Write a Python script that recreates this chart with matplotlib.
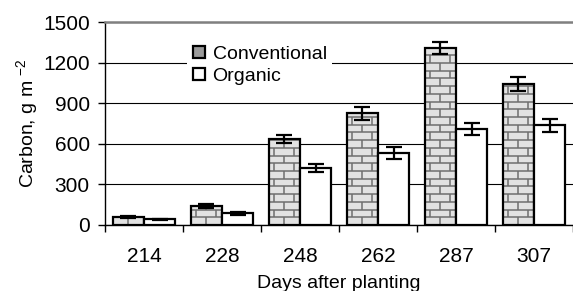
import numpy as np
import matplotlib
matplotlib.use("Agg")
import matplotlib.pyplot as plt
from matplotlib.patches import Rectangle

plt.rcParams.update({
    'font.family': ['Liberation Sans', 'DejaVu Sans'],
    'font.size': 15,
    'mathtext.fontset': 'custom',
    'mathtext.rm': 'Liberation Sans',
    'mathtext.it': 'Liberation Sans:italic',
})

days = ['214', '228', '248', '262', '287', '307']
conventional = [62, 140, 635, 825, 1310, 1042]
conventional_err = [8, 12, 32, 48, 45, 49]
organic = [42, 85, 420, 532, 709, 737]
organic_err = [5, 10, 30, 47, 45, 49]

fig = plt.figure(figsize=(5.73, 2.91), dpi=100)
ax = fig.add_axes([105 / 573, 1 - 225 / 291, 468 / 573, 203 / 291])

x = np.arange(len(days))
w = 0.4
brick_fill = '#e2e2e2'
mortar = '#6e6e6e'

# conventional bars: fill, brick texture, outline
bars = ax.bar(x - w / 2, conventional, w, color=brick_fill, edgecolor='none', zorder=2)
step = 57  # brick row height in data units
for b in bars:
    x0, bw, h = b.get_x(), b.get_width(), b.get_height()
    rows = np.arange(0, h, step)
    ax.hlines(rows[1:], x0, x0 + bw, color=mortar, lw=1.1, zorder=2.1)
    for i, y0 in enumerate(rows):
        y1 = min(y0 + step, h)
        joints = [0.5] if i % 2 == 0 else [0.18, 0.82]
        for j in joints:
            ax.vlines(x0 + j * bw, y0, y1, color=mortar, lw=1.1, zorder=2.1)
ax.bar(x - w / 2, conventional, w, fill=False, edgecolor='black', lw=1.6, zorder=2.2)
ax.bar(x + w / 2, organic, w, color='white', edgecolor='black', lw=1.6, zorder=2.2)

ax.errorbar(x - w / 2, conventional, yerr=conventional_err, fmt='none', ecolor='black',
            elinewidth=1.6, capsize=6, capthick=1.6, zorder=3)
ax.errorbar(x + w / 2, organic, yerr=organic_err, fmt='none', ecolor='black',
            elinewidth=1.6, capsize=6, capthick=1.6, zorder=3)

ax.set_xlim(-0.5, len(days) - 0.5)
ax.set_ylim(0, 1500)
ax.set_yticks(np.arange(0, 1501, 300))
ax.yaxis.grid(True, color='black', lw=0.8)
ax.set_axisbelow(True)

ax.set_xticks(np.arange(-0.5, len(days), 1))
ax.set_xticklabels([])
ax.set_xticks(x, minor=True)
ax.set_xticklabels(days, minor=True)
ax.tick_params(axis='x', which='major', direction='out', length=5, width=1)
ax.tick_params(axis='x', which='minor', length=0, pad=16)
ax.tick_params(axis='y', direction='out', length=5, width=1, pad=6)

ax.spines['right'].set_visible(False)
ax.spines['top'].set_color('#808080')
ax.spines['top'].set_linewidth(1.8)
ax.spines['left'].set_linewidth(1)
ax.spines['bottom'].set_linewidth(1)

ax.set_xlabel('Days after planting', fontsize=14, labelpad=6)
ax.set_ylabel('Carbon, g m $^{-2}$', fontsize=14, labelpad=2)

handles = [Rectangle((0, 0), 1, 1, facecolor='#9a9a9a', edgecolor='black', lw=1.6),
           Rectangle((0, 0), 1, 1, facecolor='white', edgecolor='black', lw=1.6)]
leg = ax.legend(handles, ['Conventional', 'Organic'], loc='upper left',
                bbox_to_anchor=(0.155, 0.96), frameon=True, fancybox=False,
                edgecolor='none', framealpha=1, handlelength=0.6, handleheight=0.6,
                handletextpad=0.4, labelspacing=0.25, borderpad=0.3, fontsize=14)
leg.set_zorder(4)

fig.savefig('out.png', dpi=100)
